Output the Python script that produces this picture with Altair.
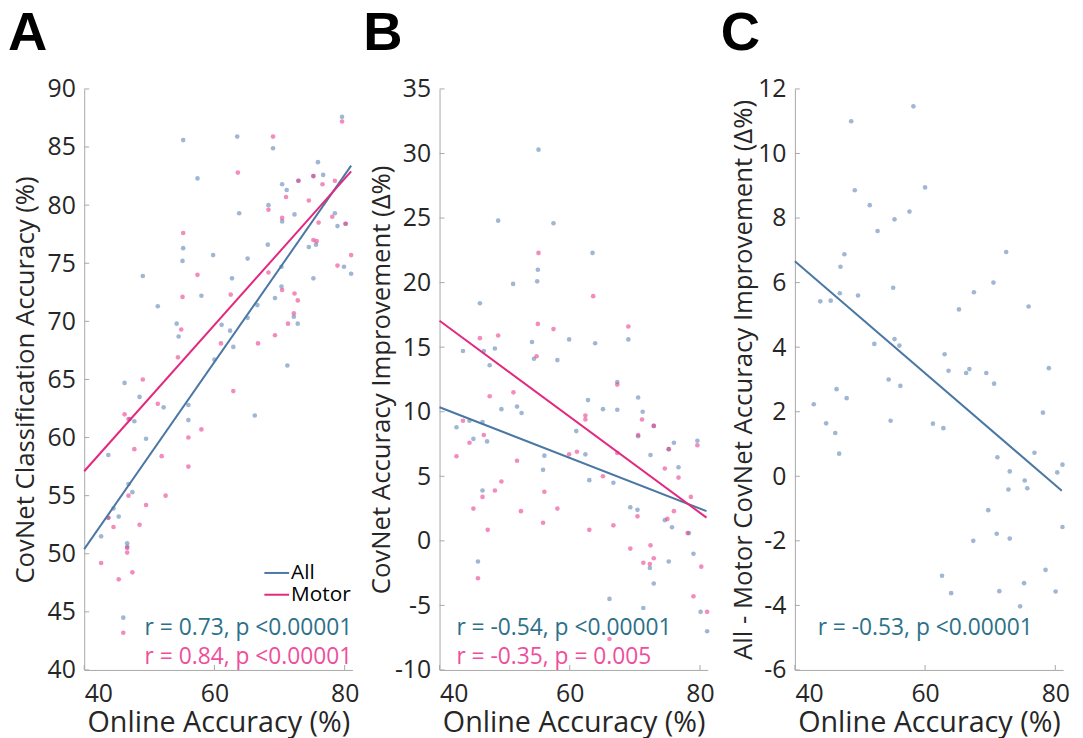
import altair as alt
import pandas as pd

# ---------------- data ----------------
# Panel A: CovNet classification accuracy vs online accuracy
A_ALL_X = [79.6, 55.2, 63.5, 69.0, 57.4, 75.9, 76.7, 70.4, 71.1, 72.9, 75.2, 68.3, 63.8, 70.4, 72.3,
           78.5, 78.9, 80.1, 68.2, 55.2, 55.1, 59.8, 65.1, 74.5, 75.6, 79.9, 81.0, 49.0, 62.7, 75.2,
           70.3, 51.3, 58.0, 70.3, 69.3, 66.6, 72.2, 72.8, 65.1, 54.2, 54.5, 61.1, 62.4, 62.9, 60.0,
           71.2, 46.2, 48.5, 52.2, 56.0, 56.0, 66.2, 47.0, 47.7, 49.5, 43.7, 46.8, 47.4, 44.5, 45.3,
           43.7, 42.6, 46.6, 46.6, 46.0]
A_ALL_Y = [87.6, 85.6, 85.9, 84.9, 82.3, 83.7, 82.6, 81.8, 81.3, 82.1, 82.5, 80.0, 79.3, 78.6, 79.2,
           79.3, 78.2, 78.4, 76.6, 76.3, 75.2, 75.7, 75.4, 76.4, 76.6, 74.7, 74.1, 73.9, 73.7, 73.7,
           74.7, 71.3, 72.2, 73.0, 72.0, 71.4, 70.4, 69.8, 70.3, 69.8, 68.7, 69.7, 69.2, 67.8, 66.7,
           66.2, 64.7, 63.5, 62.6, 62.8, 61.5, 61.9, 61.6, 61.4, 59.9, 58.5, 56.0, 55.3, 53.9, 53.2,
           53.1, 51.5, 50.6, 50.9, 44.5]
A_MOT_X = [79.6, 69.0, 63.6, 72.9, 75.2, 76.6, 78.5, 71.0, 74.5, 68.3, 70.4, 76.0, 78.1, 80.2, 55.2,
           75.2, 75.7, 81.0, 78.9, 57.4, 68.3, 55.1, 62.5, 70.4, 72.3, 72.8, 72.2, 71.3, 54.9, 61.0,
           66.7, 69.3, 54.4, 49.0, 62.9, 51.3, 46.2, 46.8, 58.0, 56.0, 47.7, 51.9, 56.0, 52.5, 46.8,
           49.5, 48.5, 44.5, 43.7, 46.6, 46.6, 42.6, 47.4, 45.3, 46.0]
A_MOT_Y = [87.2, 85.9, 82.8, 82.1, 82.5, 81.8, 82.1, 80.7, 80.4, 79.6, 78.9, 78.5, 79.0, 78.4, 77.6,
           77.0, 76.9, 75.7, 74.8, 74.0, 74.2, 72.1, 72.3, 72.7, 72.4, 71.8, 70.7, 69.8, 69.3, 68.1,
           68.1, 68.8, 66.9, 65.0, 64.0, 62.9, 62.0, 61.6, 60.7, 60.0, 59.0, 58.4, 57.5, 55.0, 55.0,
           54.2, 52.5, 52.3, 53.1, 50.5, 50.1, 49.2, 48.4, 47.8, 43.2]

# Panel B: CovNet accuracy improvement vs online accuracy
B_ALL_X = [55.2, 49.0, 57.5, 63.5, 55.1, 55.0, 51.3, 46.2, 54.2, 59.9, 63.9, 69.0, 43.6, 46.8, 48.5,
           54.5, 58.1, 47.7, 67.3, 42.6, 44.6, 46.6, 45.2, 47.3, 49.5, 51.9, 52.6, 56.1, 55.9, 46.6,
           45.9, 61.0, 62.8, 62.4, 65.1, 67.3, 63.0, 66.7, 70.5, 71.2, 70.5, 72.9, 72.4, 76.0, 75.2,
           76.7, 69.3, 70.4, 74.6, 75.7, 78.3, 79.0, 75.2, 72.3, 72.9, 66.1, 71.3, 80.1, 81.1, 79.6]
B_ALL_Y = [30.3, 24.8, 24.6, 22.3, 21.0, 20.1, 19.9, 18.4, 15.4, 15.6, 15.3, 15.6, 14.7, 14.7, 14.9,
           14.1, 14.0, 13.6, 12.3, 8.8, 9.3, 9.2, 7.9, 7.7, 10.2, 10.4, 9.9, 6.6, 5.5, 3.9,
           -1.6, 8.5, 10.9, 6.7, 10.2, 10.15, 4.7, 4.5, 11.1, 10.0, 8.1, 8.9, 6.65, 7.6, 7.1,
           5.7, 2.6, 2.4, 1.6, 1.05, 0.6, -1.0, -1.6, -2.1, -3.3, -4.5, -5.2, -5.5, -7.0, 7.75]
B_MOT_X = [55.2, 63.6, 55.1, 57.5, 69.0, 46.2, 49.0, 54.9, 51.35, 47.7, 43.6, 44.6, 46.8, 42.6, 49.5,
           48.5, 51.9, 46.6, 45.2, 47.4, 45.9, 56.1, 55.9, 58.1, 52.5, 59.9, 61.1, 62.4, 62.4, 65.1,
           63.0, 66.7, 67.3, 67.3, 71.1, 70.5, 72.9, 74.6, 76.7, 75.2, 78.6, 76.0, 70.4, 75.0, 69.3,
           72.4, 71.3, 72.9, 72.3, 80.2, 79.0, 81.1, 79.6, 66.1, 78.1]
B_MOT_Y = [22.3, 18.95, 16.8, 16.4, 16.6, 15.7, 15.9, 14.3, 11.5, 11.2, 9.3, 7.6, 8.2, 6.55, 4.6,
           3.9, 6.2, 3.4, 2.5, 0.85, -2.9, 3.8, 1.4, 2.5, 2.3, 6.7, 6.9, 9.7, 9.4, 5.0,
           0.85, 1.2, 6.8, 12.1, 9.4, 8.2, 8.9, 5.6, 4.9, 7.1, 3.4, 2.3, 1.9, 1.7, -0.6,
           -0.35, -1.7, -1.35, -1.8, -2.0, -4.3, -5.5, 7.4, -7.6, 0.6]

# Panel C: All - Motor difference vs online accuracy
C_X = [58.2, 48.65, 49.2, 60.0, 51.5, 57.6, 55.3, 52.7, 47.6, 47.0, 72.45, 55.1, 46.9, 49.7, 43.9,
       45.5, 70.5, 67.5, 65.2, 75.9, 55.3, 56.05, 52.2, 63.0, 63.6, 66.3, 66.8, 69.4, 70.6, 79.0,
       54.4, 56.2, 46.4, 42.9, 47.95, 44.8, 46.2, 46.8, 54.7, 61.2, 62.8, 78.1, 71.1, 76.8, 73.0,
       81.1, 80.3, 75.3, 75.7, 72.8, 69.7, 71.0, 73.0, 67.4, 81.1, 62.6, 64.0, 71.4, 75.2, 78.5,
       80.05, 74.6]
C_Y = [11.46, 11.0, 8.86, 8.95, 8.4, 8.2, 7.96, 7.6, 6.88, 6.49, 6.95, 5.84, 5.67, 5.6, 5.42,
       5.44, 6.0, 5.7, 5.17, 5.26, 4.25, 4.05, 4.1, 3.78, 3.27, 3.2, 3.32, 3.2, 2.87, 3.35,
       3.0, 2.8, 2.7, 2.23, 2.42, 1.64, 1.34, 0.70, 1.72, 1.63, 1.49, 1.97, 0.59, 0.73, 0.15,
       0.36, 0.12, -0.13, -0.37, -0.41, -1.05, -1.78, -1.93, -2.0, -1.57, -3.08, -3.62, -3.56, -3.31, -2.9,
       -3.57, -4.03]

# fitted lines (end points)
LINE_X = [40, 81]
A_ALL_LINE = [50.4, 83.4]
A_MOT_LINE = [57.1, 82.9]
B_ALL_LINE = [10.35, 2.3]
B_MOT_LINE = [17.05, 1.8]
C_LINE = [6.66, -0.45]

X_TICKS = [40, 60, 80]
A_TICKS = [40, 45, 50, 55, 60, 65, 70, 75, 80, 85, 90]
B_TICKS = [-10, -5, 0, 5, 10, 15, 20, 25, 30, 35]
C_TICKS = [-6, -4, -2, 0, 2, 4, 6, 8, 10, 12]

X_TITLE = "Online Accuracy (%)"
Y_TITLES = ["CovNet Classification Accuracy (%)",
            "CovNet Accuracy Improvement (\u0394%)",
            "All - Motor CovNet Accuracy Improvement (\u0394%)"]
LETTERS = ["A", "B", "C"]
LEGEND = ["All", "Motor"]
A_STATS = ["r = 0.73, p <0.00001", "r = 0.84, p <0.00001"]
B_STATS = ["r = -0.54, p <0.00001", "r = -0.35, p = 0.005"]
C_STATS = ["r = -0.53, p <0.00001"]

# ---------------- styles ----------------
W, H = 271, 587
XMAX = 81.2
FONT = "Open Sans"
BLUE_PT = "#5f87b6"
PINK_PT = "#ea3f8f"
BLUE_LN = "#4a77a3"
PINK_LN = "#e3287f"
BLUE_TX = "#2c7189"
PINK_TX = "#ee4f9c"
AXIS_GRAY = "#a8a8a8"
STAT_SIZE = 23
LABEL_EXPR = "'' + datum.value"


def axis_layer(dom, ticks, title, title_x):
    """Layer that carries both axes (domain lines, tick labels, titles)."""
    df = pd.DataFrame({"x": [40], "y": [dom[0]]})
    return alt.Chart(df).mark_point(opacity=0).encode(
        x=alt.X("x:Q", scale=alt.Scale(domain=[40, XMAX], nice=False, zero=False),
                axis=alt.Axis(values=X_TICKS, title=X_TITLE, labelExpr=LABEL_EXPR)),
        y=alt.Y("y:Q", scale=alt.Scale(domain=dom, nice=False, zero=False),
                axis=alt.Axis(values=ticks, title=title, labelExpr=LABEL_EXPR, titleX=title_x)))


def xq():
    return alt.X("x:Q")


def yq():
    return alt.Y("y:Q")


def pts(xs, ys, color):
    df = pd.DataFrame({"x": xs, "y": ys})
    return alt.Chart(df).mark_circle(size=22, opacity=0.6, color=color).encode(x=xq(), y=yq())


def line(ys, color):
    df = pd.DataFrame({"x": LINE_X, "y": ys})
    return alt.Chart(df).mark_line(color=color, strokeWidth=2).encode(x=xq(), y=yq())


def label(text, x, y, color, size=STAT_SIZE, align="left"):
    df = pd.DataFrame({"t": [text]})
    return alt.Chart(df).mark_text(align=align, baseline="middle", fontSize=size,
                                   font=FONT, color=color).encode(
        x=alt.value(x), y=alt.value(y), text="t:N")


def letter(text, x):
    df = pd.DataFrame({"t": [text]})
    return alt.Chart(df).mark_text(align="left", baseline="alphabetic", fontSize=55,
                                   fontWeight="bold", font="Liberation Sans", color="black").encode(
        x=alt.value(x), y=alt.value(-39), text="t:N")


def ticks_layers(yticks):
    ydf = pd.DataFrame({"y": yticks})
    xdf = pd.DataFrame({"x": X_TICKS})
    yt = alt.Chart(ydf).mark_rule(color=AXIS_GRAY, strokeWidth=1).encode(
        x=alt.value(0), x2=alt.value(5), y=yq())
    xt = alt.Chart(xdf).mark_rule(color=AXIS_GRAY, strokeWidth=1).encode(
        x=xq(), y=alt.value(H), y2=alt.value(H - 5))
    return [yt, xt]


def legend_layers():
    out = []
    for i, (name, col) in enumerate(zip(LEGEND, [BLUE_LN, PINK_LN])):
        yy = 489 + 22 * i
        out.append(alt.Chart(pd.DataFrame({"t": [name]})).mark_rule(color=col, strokeWidth=2).encode(
            x=alt.value(182), x2=alt.value(207), y=alt.value(yy)))
        out.append(label(name, 209, yy, "black", size=21))
    return out


panel_a = alt.layer(
    axis_layer([40, 90], A_TICKS, Y_TITLES[0], -46),
    pts(A_ALL_X, A_ALL_Y, BLUE_PT),
    pts(A_MOT_X, A_MOT_Y, PINK_PT),
    line(A_ALL_LINE, BLUE_LN),
    line(A_MOT_LINE, PINK_LN),
    *ticks_layers(A_TICKS),
    *legend_layers(),
    label(A_STATS[0], 61, 545, BLUE_TX),
    label(A_STATS[1], 61, 574, PINK_TX),
    letter(LETTERS[0], -77),
).properties(width=W, height=H)

panel_b = alt.layer(
    axis_layer([-10, 35], B_TICKS, Y_TITLES[1], -46),
    pts(B_ALL_X, B_ALL_Y, BLUE_PT),
    pts(B_MOT_X, B_MOT_Y, PINK_PT),
    line(B_ALL_LINE, BLUE_LN),
    line(B_MOT_LINE, PINK_LN),
    *ticks_layers(B_TICKS),
    label(B_STATS[0], 17, 545, BLUE_TX),
    label(B_STATS[1], 17, 574, PINK_TX),
    letter(LETTERS[1], -77),
).properties(width=W, height=H)

panel_c = alt.layer(
    axis_layer([-6, 12], C_TICKS, Y_TITLES[2], -39),
    pts(C_X, C_Y, BLUE_PT),
    line(C_LINE, BLUE_LN),
    *ticks_layers(C_TICKS),
    label(C_STATS[0], 23, 545, BLUE_TX),
    letter(LETTERS[2], -75),
).properties(width=W, height=H)

chart = alt.hconcat(panel_a, panel_b, panel_c, spacing=88, bounds="flush").properties(
    padding={"left": 0, "top": -5, "right": 5, "bottom": 0}
).configure_view(stroke=None).configure_axis(
    grid=False,
    domainColor=AXIS_GRAY,
    domainWidth=1,
    ticks=False,
    labelFont=FONT,
    labelFontSize=25,
    labelColor="#262626",
    labelPadding=9,
    titleFont=FONT,
    titleFontSize=26,
    titleFontWeight="normal",
    titleColor="#262626",
).configure_axisX(labelPadding=12, titlePadding=2, titleFontSize=29)

chart.save("out.html", embed_options={"renderer": "svg", "actions": False})
